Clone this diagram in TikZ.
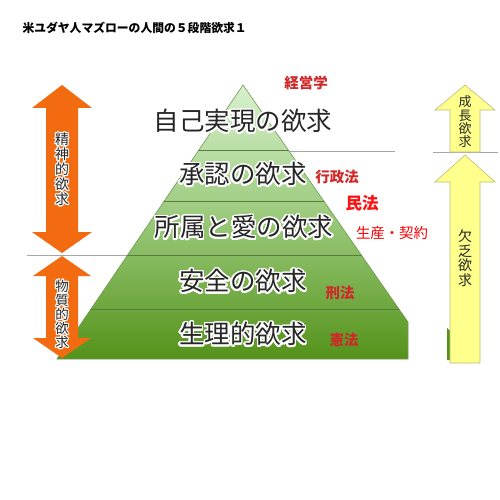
\documentclass[tikz,border=0pt]{standalone}
\usepackage{fontspec}
\newfontfamily\jp{Noto Sans CJK JP}
\usepackage{contour}
\contournumber{24}
\newcommand\halo[2][1.6pt]{{\contourlength{#1}\contour{white}{#2}}}
\definecolor{orangearrow}{HTML}{F26B10}
\definecolor{yellowarrow}{HTML}{FFFF8C}
\definecolor{yellowedge}{HTML}{BDBD7A}
\definecolor{pyrtop}{HTML}{D8F1CE}
\definecolor{pyrmid}{HTML}{98C878}
\definecolor{pyrbot}{HTML}{54921A}
\definecolor{pyredge}{HTML}{6E9A50}
\definecolor{lawred}{HTML}{D02828}
\definecolor{brightred}{HTML}{FF1010}

\begin{document}
\begin{tikzpicture}[x=1pt, y=-1pt,
    lvl/.style={font=\jp\fontsize{25.5}{26}\selectfont, text=black!85, inner sep=0pt},
    law/.style={font=\jp\bfseries\fontsize{14.5}{15}\selectfont, text=lawred, inner sep=0pt},
    vtxt/.style={align=center, inner sep=0pt, text=black!85},
    bandline/.style={draw=pyredge!80!black, line width=0.8pt},
    sep/.style={draw=black!35, line width=0.7pt}
  ]
    \useasboundingbox[fill=white] (0,0) rectangle (500,500);

    % title
    \node[anchor=west, font=\jp\bfseries\fontsize{11.8}{12}\selectfont] (title) at (19,28)
      {米ユダヤ人マズローの人間の５段階欲求１};

    % separators
    \draw[sep] (27,255) -- (128,255);
    \draw[sep] (288,151) -- (395,151);
    \draw[sep] (433,152) -- (498,152);

    % pyramid
    \coordinate (apex) at (243,85);
    \coordinate (rtop) at (408,322);
    \coordinate (rbot) at (408,359);
    \coordinate (lbot) at (57,359);
    \path[top color=pyrtop, bottom color=pyrbot, middle color=pyrmid, draw=pyredge, line width=0.6pt]
      (apex) -- (rtop) -- (rbot) -- (lbot) -- cycle;
    \begin{scope}
      \clip (apex) -- (rtop) -- (rbot) -- (lbot) -- cycle;
      \foreach \y in {150,201,255,309}
        \draw[bandline] (0,\y) -- (500,\y);
    \end{scope}
    \fill[pyrbot] (447,328) -- (450,331) -- (450,360) -- (447,360) -- cycle;

    % levels
    \node[lvl] (self)   at (243,122) {\halo{自己実現の欲求}};
    \node[lvl] (esteem) at (243,175) {\halo{承認の欲求}};
    \node[lvl] (love)   at (244,228) {\halo{所属と愛の欲求}};
    \node[lvl] (safety) at (243,282) {\halo{安全の欲求}};
    \node[lvl] (phys)   at (243,335) {\halo{生理的欲求}};

    % laws
    \node[law] (mgmt)  at (306,83)  {経営学};
    \node[law] (admin) at (337,177) {行政法};
    \node[law, text=brightred, font=\jp\bfseries\fontsize{16.5}{17}\selectfont] (civil) at (362,203) {民法};
    \node[law, text=red, font=\jp\fontsize{14.4}{15}\selectfont] (prod) at (392,233) {生産・契約};
    \node[law] (crim)  at (340,293) {刑法};
    \node[law] (const) at (344,340) {憲法};

    % left arrows
    \fill[orangearrow] (62,85) -- (92,108) -- (78,108) -- (78,232) -- (92,232) -- (62,253)
      -- (32,232) -- (46,232) -- (46,108) -- (32,108) -- cycle;
    \fill[orangearrow] (62,256) -- (91,276) -- (78,276) -- (78,338) -- (91,338) -- (62,358)
      -- (33,338) -- (46,338) -- (46,276) -- (33,276) -- cycle;
    \node[vtxt, font=\jp\fontsize{14}{15}\selectfont] (mental) at (62,170)
      {\halo[1pt]{精}\\\halo[1pt]{神}\\\halo[1pt]{的}\\\halo[1pt]{欲}\\\halo[1pt]{求}};
    \node[vtxt, font=\jp\fontsize{13.5}{14}\selectfont] (material) at (62,315)
      {\halo[1pt]{物}\\\halo[1pt]{質}\\\halo[1pt]{的}\\\halo[1pt]{欲}\\\halo[1pt]{求}};

    % right arrows
    \filldraw[fill=yellowarrow, draw=yellowedge, line width=0.6pt]
      (465,85) -- (495,110) -- (480,110) -- (480,152) -- (450,152) -- (450,110) -- (435,110) -- cycle;
    \filldraw[fill=yellowarrow, draw=yellowedge, line width=0.6pt]
      (465,155) -- (495,182) -- (480,182) -- (480,363) -- (450,363) -- (450,182) -- (435,182) -- cycle;
    \node[vtxt, font=\jp\fontsize{13}{13.3}\selectfont] (growth) at (465,122)
      {成\\長\\欲\\求};
    \node[vtxt, font=\jp\fontsize{14}{14.6}\selectfont] (deficit) at (465,258)
      {欠\\乏\\欲\\求};
  \end{tikzpicture}
\end{document}
